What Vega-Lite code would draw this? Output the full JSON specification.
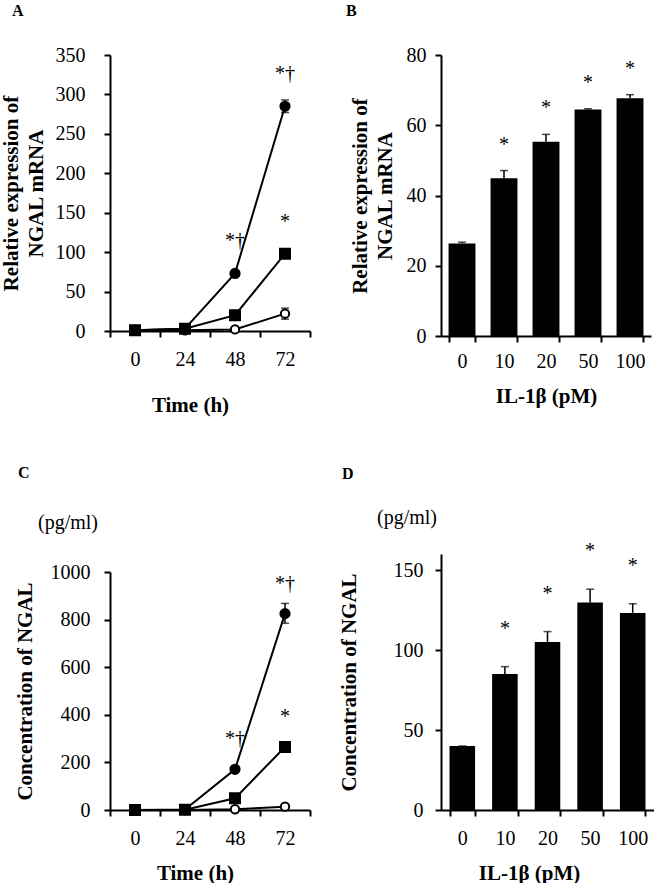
{
  "$schema": "https://vega.github.io/schema/vega-lite/v6.json",
  "background": "white",
  "padding": {"left": 0, "top": 3, "right": 0, "bottom": 0},
  "datasets": {
    "timeMRNA": [
      {"time": "0", "series": "s3", "mean": 1, "lo": 1, "hi": 1, "sig": ""},
      {"time": "24", "series": "s3", "mean": 1, "lo": 1, "hi": 1, "sig": ""},
      {"time": "48", "series": "s3", "mean": 2, "lo": 2, "hi": 2, "sig": ""},
      {"time": "72", "series": "s3", "mean": 22, "lo": 15, "hi": 29, "sig": ""},
      {"time": "0", "series": "s1", "mean": 1, "lo": 1, "hi": 1, "sig": ""},
      {"time": "24", "series": "s1", "mean": 3, "lo": 3, "hi": 3, "sig": ""},
      {"time": "48", "series": "s1", "mean": 73, "lo": 73, "hi": 73, "sig": "*†"},
      {"time": "72", "series": "s1", "mean": 285, "lo": 277, "hi": 293, "sig": "*†"},
      {"time": "0", "series": "s2", "mean": 1, "lo": 1, "hi": 1, "sig": ""},
      {"time": "24", "series": "s2", "mean": 3, "lo": 3, "hi": 3, "sig": ""},
      {"time": "48", "series": "s2", "mean": 20, "lo": 20, "hi": 20, "sig": ""},
      {"time": "72", "series": "s2", "mean": 98, "lo": 95, "hi": 101, "sig": "*"}
    ],
    "timeProt": [
      {"time": "0", "series": "s3", "mean": 0, "lo": 0, "hi": 0, "sig": ""},
      {"time": "24", "series": "s3", "mean": 0, "lo": 0, "hi": 0, "sig": ""},
      {"time": "48", "series": "s3", "mean": 3, "lo": 3, "hi": 3, "sig": ""},
      {"time": "72", "series": "s3", "mean": 14, "lo": 14, "hi": 14, "sig": ""},
      {"time": "0", "series": "s1", "mean": 0, "lo": 0, "hi": 0, "sig": ""},
      {"time": "24", "series": "s1", "mean": 2, "lo": 2, "hi": 2, "sig": ""},
      {"time": "48", "series": "s1", "mean": 171, "lo": 171, "hi": 171, "sig": "*†"},
      {"time": "72", "series": "s1", "mean": 825, "lo": 785, "hi": 868, "sig": "*†"},
      {"time": "0", "series": "s2", "mean": 0, "lo": 0, "hi": 0, "sig": ""},
      {"time": "24", "series": "s2", "mean": 1, "lo": 1, "hi": 1, "sig": ""},
      {"time": "48", "series": "s2", "mean": 49, "lo": 49, "hi": 49, "sig": ""},
      {"time": "72", "series": "s2", "mean": 265, "lo": 255, "hi": 275, "sig": "*"}
    ],
    "doseMRNA": [
      {"dose": "0", "mean": 26.3, "hi": 26.7, "sig": ""},
      {"dose": "10", "mean": 44.9, "hi": 47.1, "sig": "*"},
      {"dose": "20", "mean": 55.3, "hi": 57.4, "sig": "*"},
      {"dose": "50", "mean": 64.5, "hi": 64.7, "sig": "*"},
      {"dose": "100", "mean": 67.7, "hi": 68.7, "sig": "*"}
    ],
    "doseProt": [
      {"dose": "0", "mean": 40, "hi": 40, "sig": ""},
      {"dose": "10", "mean": 85, "hi": 89.6, "sig": "*"},
      {"dose": "20", "mean": 105, "hi": 111.5, "sig": "*"},
      {"dose": "50", "mean": 129.7, "hi": 138, "sig": "*"},
      {"dose": "100", "mean": 123.2, "hi": 128.9, "sig": "*"}
    ]
  },
  "spacing": 27,
  "hconcat": [
    {
      "spacing": 50,
      "vconcat": [
        {
          "width": 200, "height": 276,
          "title": {"text": "A", "dx": 12, "offset": 26},
          "data": {"name": "timeMRNA"},
          "encoding": {
            "x": {"field": "time", "type": "ordinal", "sort": ["0", "24", "48", "72"],
                  "scale": {"type": "band", "paddingInner": 0, "paddingOuter": 0},
                  "axis": {"labelAngle": 0, "tickBand": "extent", "title": "Time (h)", "labelPadding": 12, "titlePadding": 25, "titleX": 80}}
          },
          "layer": [
            {"mark": {"type": "line", "color": "black", "strokeWidth": 2},
             "encoding": {
               "y": {"field": "mean", "type": "quantitative", "scale": {"domain": [0, 350]},
                     "axis": {"values": [0, 50, 100, 150, 200, 250, 300, 350], "labelOverlap": false, "title": ["Relative expression of", "NGAL mRNA"], "titleLineHeight": 25, "labelPadding": 19, "titlePadding": 9}},
               "detail": {"field": "series"}}},
            {"transform": [{"filter": "datum.hi > datum.lo"}],
             "mark": {"type": "rule", "color": "black", "strokeWidth": 1.5},
             "encoding": {"y": {"field": "lo", "type": "quantitative", "axis": {"values": [0, 50, 100, 150, 200, 250, 300, 350], "labelOverlap": false, "title": ["Relative expression of", "NGAL mRNA"], "titleLineHeight": 25, "labelPadding": 19, "titlePadding": 9}}, "y2": {"field": "hi"}}},
            {"transform": [{"filter": "datum.hi > datum.lo"}],
             "mark": {"type": "tick", "color": "black", "thickness": 1.5, "size": 8},
             "encoding": {"y": {"field": "hi", "type": "quantitative", "axis": {"values": [0, 50, 100, 150, 200, 250, 300, 350], "labelOverlap": false, "title": ["Relative expression of", "NGAL mRNA"], "titleLineHeight": 25, "labelPadding": 19, "titlePadding": 9}}}},
            {"transform": [{"filter": "datum.hi > datum.lo"}],
             "mark": {"type": "tick", "color": "black", "thickness": 1.5, "size": 8},
             "encoding": {"y": {"field": "lo", "type": "quantitative", "axis": {"values": [0, 50, 100, 150, 200, 250, 300, 350], "labelOverlap": false, "title": ["Relative expression of", "NGAL mRNA"], "titleLineHeight": 25, "labelPadding": 19, "titlePadding": 9}}}},
            {"mark": {"type": "point", "filled": true, "stroke": "black", "strokeWidth": 2, "opacity": 1},
             "encoding": {
               "y": {"field": "mean", "type": "quantitative", "axis": {"values": [0, 50, 100, 150, 200, 250, 300, 350], "labelOverlap": false, "title": ["Relative expression of", "NGAL mRNA"], "titleLineHeight": 25, "labelPadding": 19, "titlePadding": 9}},
               "shape": {"field": "series", "scale": {"domain": ["s3", "s1", "s2"], "range": ["circle", "circle", "square"]}, "legend": null},
               "fill": {"field": "series", "scale": {"domain": ["s3", "s1", "s2"], "range": ["white", "black", "black"]}, "legend": null},
               "size": {"field": "series", "scale": {"domain": ["s3", "s1", "s2"], "range": [70, 100, 200]}, "legend": null}}},
            {"transform": [{"filter": "datum.sig != ''"}],
             "mark": {"type": "text", "font": "Liberation Serif", "fontSize": 20, "dy": -32},
             "encoding": {"y": {"field": "mean", "type": "quantitative", "axis": {"values": [0, 50, 100, 150, 200, 250, 300, 350], "labelOverlap": false, "title": ["Relative expression of", "NGAL mRNA"], "titleLineHeight": 25, "labelPadding": 19, "titlePadding": 9}}, "text": {"field": "sig"}, "color": {"value": "black"}}}
          ]
        },
        {
          "width": 200, "height": 238,
          "title": {"text": "C", "subtitle": "\u200b\u00a0\u00a0\u00a0\u00a0(pg/ml)", "dx": 4, "offset": 29, "subtitlePadding": 32},
          "data": {"name": "timeProt"},
          "encoding": {
            "x": {"field": "time", "type": "ordinal", "sort": ["0", "24", "48", "72"],
                  "scale": {"type": "band", "paddingInner": 0, "paddingOuter": 0},
                  "axis": {"labelAngle": 0, "tickBand": "extent", "title": "Time (h)", "labelPadding": 12, "titlePadding": 14, "titleX": 85}}
          },
          "layer": [
            {"mark": {"type": "line", "color": "black", "strokeWidth": 2},
             "encoding": {
               "y": {"field": "mean", "type": "quantitative", "scale": {"domain": [0, 1000]},
                     "axis": {"values": [0, 200, 400, 600, 800, 1000], "format": "d", "labelOverlap": false, "title": "Concentration of NGAL", "labelPadding": 14, "titlePadding": 15}},
               "detail": {"field": "series"}}},
            {"transform": [{"filter": "datum.hi > datum.lo"}],
             "mark": {"type": "rule", "color": "black", "strokeWidth": 1.5},
             "encoding": {"y": {"field": "lo", "type": "quantitative"}, "y2": {"field": "hi"}}},
            {"transform": [{"filter": "datum.hi > datum.lo"}],
             "mark": {"type": "tick", "color": "black", "thickness": 1.5, "size": 8},
             "encoding": {"y": {"field": "hi", "type": "quantitative"}}},
            {"transform": [{"filter": "datum.hi > datum.lo"}],
             "mark": {"type": "tick", "color": "black", "thickness": 1.5, "size": 8},
             "encoding": {"y": {"field": "lo", "type": "quantitative"}}},
            {"mark": {"type": "point", "filled": true, "stroke": "black", "strokeWidth": 2, "opacity": 1},
             "encoding": {
               "y": {"field": "mean", "type": "quantitative"},
               "shape": {"field": "series", "scale": {"domain": ["s3", "s1", "s2"], "range": ["circle", "circle", "square"]}, "legend": null},
               "fill": {"field": "series", "scale": {"domain": ["s3", "s1", "s2"], "range": ["white", "black", "black"]}, "legend": null},
               "size": {"field": "series", "scale": {"domain": ["s3", "s1", "s2"], "range": [70, 100, 200]}, "legend": null}}},
            {"transform": [{"filter": "datum.sig != ''"}],
             "mark": {"type": "text", "font": "Liberation Serif", "fontSize": 20, "dy": -30},
             "encoding": {"y": {"field": "mean", "type": "quantitative"}, "text": {"field": "sig"}, "color": {"value": "black"}}}
          ]
        }
      ]
    },
    {
      "spacing": 60,
      "vconcat": [
        {
          "width": 210, "height": 281,
          "title": {"text": "B", "dx": -3, "offset": 26},
          "data": {"name": "doseMRNA"},
          "encoding": {
            "x": {"field": "dose", "type": "ordinal", "sort": ["0", "10", "20", "50", "100"],
                  "scale": {"type": "band", "paddingInner": 0.36, "paddingOuter": 0.18},
                  "axis": {"labelAngle": 0, "tickBand": "extent", "title": "IL-1β (pM)", "labelPadding": 9, "titlePadding": 14}}
          },
          "layer": [
            {"mark": {"type": "bar", "color": "black"},
             "encoding": {"y": {"field": "mean", "type": "quantitative", "scale": {"domain": [0, 80]},
                     "axis": {"values": [0, 20, 40, 60, 80], "labelOverlap": false, "title": ["Relative expression of", "NGAL mRNA"], "titleLineHeight": 25, "labelPadding": 9, "titlePadding": 11}}}},
            {"mark": {"type": "rule", "color": "black", "strokeWidth": 1.5},
             "encoding": {"y": {"field": "mean", "type": "quantitative"}, "y2": {"field": "hi"}}},
            {"mark": {"type": "tick", "color": "black", "thickness": 1.5, "size": 8},
             "encoding": {"y": {"field": "hi", "type": "quantitative"}}},
            {"transform": [{"filter": "datum.sig != ''"}],
             "mark": {"type": "text", "font": "Liberation Serif", "fontSize": 20, "dy": -26},
             "encoding": {"y": {"field": "hi", "type": "quantitative"}, "text": {"field": "sig"}, "color": {"value": "black"}}}
          ]
        },
        {
          "width": 213, "height": 256,
          "title": {"text": "D", "subtitle": "\u200b\u00a0\u00a0\u00a0\u00a0\u00a0\u00a0\u00a0(pg/ml)", "dx": 4, "offset": 13, "subtitlePadding": 26},
          "data": {"name": "doseProt"},
          "encoding": {
            "x": {"field": "dose", "type": "ordinal", "sort": ["0", "10", "20", "50", "100"],
                  "scale": {"type": "band", "paddingInner": 0.4, "paddingOuter": 0.2},
                  "axis": {"labelAngle": 0, "tickBand": "extent", "title": "IL-1β (pM)", "labelPadding": 12, "titlePadding": 14, "titleX": 88}}
          },
          "layer": [
            {"mark": {"type": "bar", "color": "black"},
             "encoding": {"y": {"field": "mean", "type": "quantitative", "scale": {"domain": [0, 150]},
                     "axis": {"values": [0, 50, 100, 150], "labelOverlap": false, "title": "Concentration of NGAL", "labelPadding": 12, "titlePadding": 34}}}},
            {"mark": {"type": "rule", "color": "black", "strokeWidth": 1.5},
             "encoding": {"y": {"field": "mean", "type": "quantitative"}, "y2": {"field": "hi"}}},
            {"mark": {"type": "tick", "color": "black", "thickness": 1.5, "size": 8},
             "encoding": {"y": {"field": "hi", "type": "quantitative"}}},
            {"transform": [{"filter": "datum.sig != ''"}],
             "mark": {"type": "text", "font": "Liberation Serif", "fontSize": 20, "dy": -38},
             "encoding": {"y": {"field": "hi", "type": "quantitative"}, "text": {"field": "sig"}, "color": {"value": "black"}}}
          ]
        }
      ]
    }
  ],
  "config": {
    "view": {"stroke": null},
    "font": "Liberation Serif",
    "axis": {
      "grid": false, "domainColor": "black", "domainWidth": 2, "tickColor": "black", "tickWidth": 2, "tickSize": 6,
      "labelFont": "Liberation Serif", "labelFontSize": 20, "labelColor": "black", "labelOverlap": false,
      "titleFont": "Liberation Serif", "titleFontSize": 21, "titleFontWeight": "bold", "titleColor": "black"
    },
    "title": {
      "font": "Liberation Serif", "fontSize": 16, "fontWeight": "bold", "color": "black", "anchor": "start", "frame": "bounds",
      "subtitleFont": "Liberation Serif", "subtitleFontSize": 20, "subtitleColor": "black"
    }
  }
}
